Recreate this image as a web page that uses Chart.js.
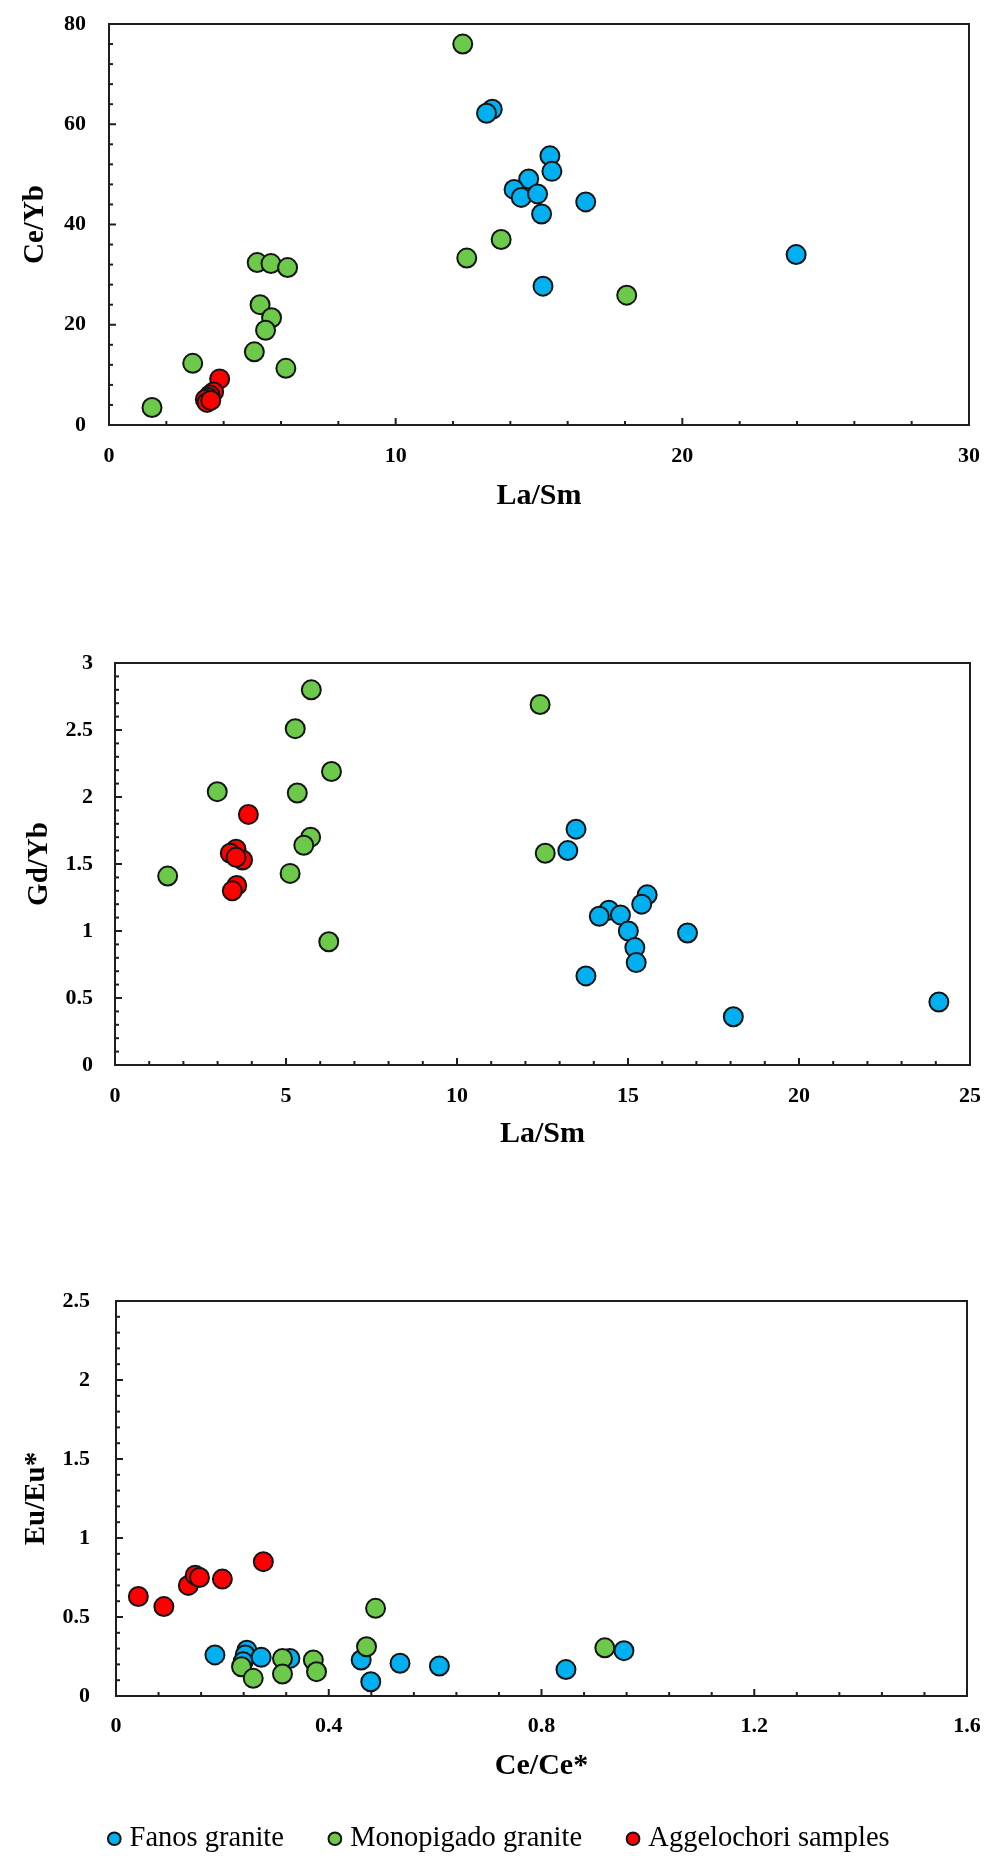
<!DOCTYPE html>
<html lang="en">
<head>
<meta charset="UTF-8">
<title>REE ratio diagrams</title>
<script src="https://cdn.jsdelivr.net/npm/chart.js"></script>
<style>
  html, body { margin: 0; padding: 0; background: #fff; }
  .page { position: relative; width: 1003px; height: 1876px; }
  .page canvas { position: absolute; left: 0; }
</style>
</head>
<body>
<div class="page">
  <canvas id="ceYbChart" width="1003" height="540" style="top:0"></canvas>
  <canvas id="gdYbChart" width="1003" height="560" style="top:600px"></canvas>
  <canvas id="euEuChart" width="1003" height="613" style="top:1250px"></canvas>
</div>
<script>
// groups
const groups = ['Fanos granite', 'Monopigado granite', 'Aggelochori samples'];
const fills = ['#00B0F0', '#6CC94A', '#FF0000'];
const drawOrder = [2, 1, 0]; // red on top, blue underneath

// Ce/Yb vs La/Sm
const fanosLaSm1 = [13.37, 13.17, 15.38, 15.45, 14.64, 14.13, 14.38, 14.95, 15.09, 16.63, 23.97, 15.14];
const fanosCeYb  = [63.0, 62.2, 53.7, 50.6, 49.1, 47.0, 45.4, 46.1, 42.1, 44.5, 34.0, 27.7];
const monoLaSm1  = [12.34, 12.48, 13.68, 18.06, 5.17, 5.65, 6.23, 5.27, 5.67, 5.46, 5.07, 6.17, 2.92, 1.50];
const monoCeYb   = [76.0, 33.3, 37.0, 25.9, 32.4, 32.2, 31.4, 24.0, 21.4, 18.9, 14.6, 11.3, 12.3, 3.5];
const aggLaSm1   = [3.86, 3.65, 3.52, 3.45, 3.36, 3.42, 3.55];
const aggCeYb    = [9.2, 6.6, 6.0, 5.5, 5.1, 4.5, 4.9];

// Gd/Yb vs La/Sm
const fanosLaSm2 = [13.48, 13.24, 15.56, 15.40, 14.44, 14.16, 14.78, 15.01, 16.74, 15.20, 15.24, 13.77, 18.08, 24.09];
const fanosGdYb  = [1.76, 1.60, 1.27, 1.20, 1.155, 1.11, 1.12, 1.00, 0.985, 0.876, 0.764, 0.665, 0.36, 0.47];
const monoLaSm2  = [5.74, 12.43, 5.27, 6.33, 2.99, 5.33, 5.72, 5.52, 12.58, 5.12, 1.54, 6.25];
const monoGdYb   = [2.80, 2.69, 2.51, 2.19, 2.04, 2.03, 1.70, 1.64, 1.58, 1.43, 1.41, 0.92];
const aggLaSm2   = [3.90, 3.54, 3.37, 3.73, 3.54, 3.56, 3.43];
const aggGdYb    = [1.87, 1.61, 1.58, 1.53, 1.55, 1.34, 1.30];

// Eu/Eu* vs Ce/Ce*
const fanosCeCe = [0.186, 0.246, 0.243, 0.239, 0.273, 0.327, 0.461, 0.479, 0.534, 0.608, 0.846, 0.955];
const fanosEuEu = [0.26, 0.29, 0.26, 0.217, 0.245, 0.238, 0.228, 0.09, 0.207, 0.19, 0.167, 0.287];
const monoCeCe  = [0.488, 0.471, 0.313, 0.313, 0.371, 0.377, 0.236, 0.258, 0.919];
const monoEuEu  = [0.555, 0.312, 0.238, 0.139, 0.228, 0.154, 0.185, 0.112, 0.305];
const aggCeCe   = [0.042, 0.090, 0.136, 0.149, 0.157, 0.20, 0.277];
const aggEuEu   = [0.63, 0.566, 0.70, 0.765, 0.75, 0.74, 0.85];

// tick labels
const laSmTicks1 = [0, 10, 20, 30];
const ceYbTicks  = [0, 20, 40, 60, 80];
const laSmTicks2 = [0, 5, 10, 15, 20, 25];
const gdYbTicks  = [0, 0.5, 1, 1.5, 2, 2.5, 3];
const ceCeTicks  = [0, 0.4, 0.8, 1.2, 1.6];
const euEuTicks  = [0, 0.5, 1, 1.5, 2, 2.5];

const serif = "'Liberation Serif', 'Times New Roman', serif";
const tickFont = { family: serif, size: 22, weight: 'bold' };

const pts = (xs, ys) => xs.map((x, i) => ({ x: x, y: ys[i] }));

// box around the plot + short inward ticks, Excel style
const frameTicks = {
  id: 'frameTicks',
  beforeDatasetsDraw(chart, args, o) {
    const { ctx, chartArea: a, scales } = chart;
    ctx.save();
    ctx.strokeStyle = '#1e1e1e';
    ctx.lineWidth = 2;
    ['x', 'y'].forEach(k => {
      const s = scales[k];
      const step = o[k + 'Minor'];
      const n = Math.round((s.max - s.min) / step);
      for (let i = 1; i < n; i++) {
        const p = s.getPixelForValue(s.min + i * step);
        const len = i % 5 === 0 ? 7 : 4;
        ctx.beginPath();
        if (k === 'x') { ctx.moveTo(p, a.bottom); ctx.lineTo(p, a.bottom - len); }
        else { ctx.moveTo(a.left, p); ctx.lineTo(a.left + len, p); }
        ctx.stroke();
      }
    });
    ctx.strokeRect(a.left, a.top, a.right - a.left, a.bottom - a.top);
    ctx.restore();
  }
};

function axis(ticks, title, o) {
  return {
    type: 'linear',
    min: ticks[0],
    max: ticks[ticks.length - 1],
    grid: { display: false, drawTicks: false },
    border: { display: false },
    afterBuildTicks: s => { s.ticks = ticks.map(v => ({ value: v })); },
    // fixed box sizes so the plot area lands where it should
    afterFit: s => {
      if (s.isHorizontal()) { s.height = o.size; s.paddingLeft = 0; s.paddingRight = 0; }
      else { s.width = o.size; s.paddingTop = 0; s.paddingBottom = 0; }
    },
    ticks: { autoSkip: false, maxRotation: 0, padding: o.tickPad, color: '#000', font: tickFont,
             callback: v => String(v) },
    title: { display: true, text: title, color: '#000',
             font: { family: serif, size: o.titleSize, weight: 'bold' }, padding: o.titlePad }
  };
}

function scatter(id, xs, ys, cfg) {
  return new Chart(document.getElementById(id), {
    type: 'scatter',
    data: {
      datasets: groups.map((g, i) => ({
        label: g,
        data: pts(xs[i], ys[i]),
        backgroundColor: fills[i],
        borderColor: '#141414',
        borderWidth: 2,
        pointRadius: 9.5,
        pointHoverRadius: 9.5,
        order: drawOrder[i],
        clip: false
      }))
    },
    options: {
      responsive: false,
      animation: false,
      events: [],
      layout: { padding: cfg.pad, autoPadding: false },
      plugins: {
        legend: cfg.legend || { display: false },
        tooltip: { enabled: false },
        frameTicks: { xMinor: cfg.xMinor, yMinor: cfg.yMinor }
      },
      scales: { x: cfg.x, y: cfg.y }
    },
    plugins: [frameTicks]
  });
}

scatter('ceYbChart',
  [fanosLaSm1, monoLaSm1, aggLaSm1], [fanosCeYb, monoCeYb, aggCeYb], {
    pad: { top: 24, right: 34, left: 0, bottom: 0 },
    xMinor: 2, yMinor: 4,
    x: axis(laSmTicks1, 'La/Sm', { size: 115, tickPad: 18.5, titleSize: 30, titlePad: { top: 0, bottom: 26 } }),
    y: axis(ceYbTicks, 'Ce/Yb', { size: 109, tickPad: 23, titleSize: 29, titlePad: { top: 18.6, bottom: 0 } })
  });

scatter('gdYbChart',
  [fanosLaSm2, monoLaSm2, aggLaSm2], [fanosGdYb, monoGdYb, aggGdYb], {
    pad: { top: 63, right: 33, left: 0, bottom: 0 },
    xMinor: 1, yMinor: 0.1,
    x: axis(laSmTicks2, 'La/Sm', { size: 95, tickPad: 18.5, titleSize: 30, titlePad: { top: 0, bottom: 8 } }),
    y: axis(gdYbTicks, 'Gd/Yb', { size: 115, tickPad: 22, titleSize: 29, titlePad: { top: 22.6, bottom: 0 } })
  });

scatter('euEuChart',
  [fanosCeCe, monoCeCe, aggCeCe], [fanosEuEu, monoEuEu, aggEuEu], {
    pad: { top: 51, right: 36, left: 36, bottom: 0 },
    xMinor: 0.08, yMinor: 0.1,
    legend: {
      display: true,
      position: 'bottom',
      labels: {
        usePointStyle: true,
        boxWidth: 2,
        boxHeight: 9,
        padding: 50,
        color: '#000',
        font: { family: serif, size: 28.5 },
        sort: (a, b) => a.datasetIndex - b.datasetIndex
      }
    },
    x: axis(ceCeTicks, 'Ce/Ce*', { size: 78.5, tickPad: 17.5, titleSize: 30, titlePad: { top: 0, bottom: -9.5 } }),
    y: axis(euEuTicks, 'Eu/Eu*', { size: 80, tickPad: 26, titleSize: 29, titlePad: { top: -16.4, bottom: 0 } })
  });
</script>
</body>
</html>
